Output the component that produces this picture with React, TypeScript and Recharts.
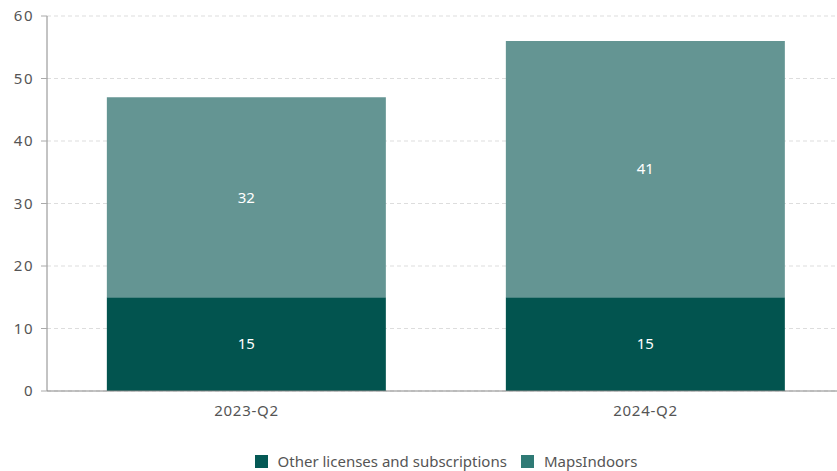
import React from "react";
import { BarChart, Bar, XAxis, YAxis, CartesianGrid, Legend, LabelList } from "recharts";

const categories = ["2023-Q2", "2024-Q2"];
const otherLicenses = [15, 15];
const mapsIndoors = [32, 41];
const yTicks = [0, 10, 20, 30, 40, 50, 60];
const seriesNames = ["Other licenses and subscriptions", "MapsIndoors"];

const data = categories.map((c, i) => ({
  category: c,
  other: otherLicenses[i],
  maps: mapsIndoors[i],
}));

const FONT = "'Noto Sans', sans-serif";
const DARK = "#02544F";
const LIGHT = "#649593";
const legendColors = ["#045955", "#2F7A75"];

const LegendContent = () => (
  <div
    style={{
      display: "flex",
      justifyContent: "center",
      alignItems: "center",
      height: 40,
      paddingTop: 20,
      boxSizing: "border-box",
      fontFamily: FONT,
      fontSize: 15,
      color: "#555",
    }}
  >
    {seriesNames.map((n, i) => (
      <div key={n} style={{ display: "flex", alignItems: "center", marginRight: i === 0 ? 14 : 0 }}>
        <span style={{ display: "inline-block", width: 13, height: 13, background: legendColors[i], marginRight: 10 }} />
        <span>{n}</span>
      </div>
    ))}
  </div>
);

export default function App() {
  return (
    <div style={{ position: "absolute", left: 0, top: 0, width: 837, height: 471, overflow: "hidden" }}>
      <BarChart
        width={845}
        height={471}
        data={data}
        margin={{ top: 16, right: 0, bottom: 0, left: 0 }}
        barCategoryGap="15%"
      >
        <CartesianGrid vertical={false} stroke="#dddddd" strokeDasharray="4 3" />
        <XAxis
          dataKey="category"
          height={40}
          tickLine={false}
          axisLine={{ stroke: "#888" }}
          tickMargin={8}
          tick={{ fill: "#555", fontSize: 15, fontFamily: FONT, letterSpacing: 0.7 }}
        />
        <YAxis
          width={47}
          domain={[0, 60]}
          ticks={yTicks}
          axisLine={{ stroke: "#888" }}
          tickLine={{ stroke: "#aaa" }}
          tickMargin={7}
          tick={{ fill: "#555", fontSize: 15, fontFamily: FONT, letterSpacing: 1.5 }}
        />
        <Legend verticalAlign="bottom" content={<LegendContent />} wrapperStyle={{ left: 47, width: 798 }} />
        <Bar dataKey="other" stackId="a" fill={DARK} name={seriesNames[0]} isAnimationActive={false}>
          <LabelList dataKey="other" position="center" fill="#fff" fontSize={15} fontFamily={FONT} />
        </Bar>
        <Bar dataKey="maps" stackId="a" fill={LIGHT} name={seriesNames[1]} isAnimationActive={false}>
          <LabelList dataKey="maps" position="center" fill="#fff" fontSize={15} fontFamily={FONT} />
        </Bar>
      </BarChart>
    </div>
  );
}
